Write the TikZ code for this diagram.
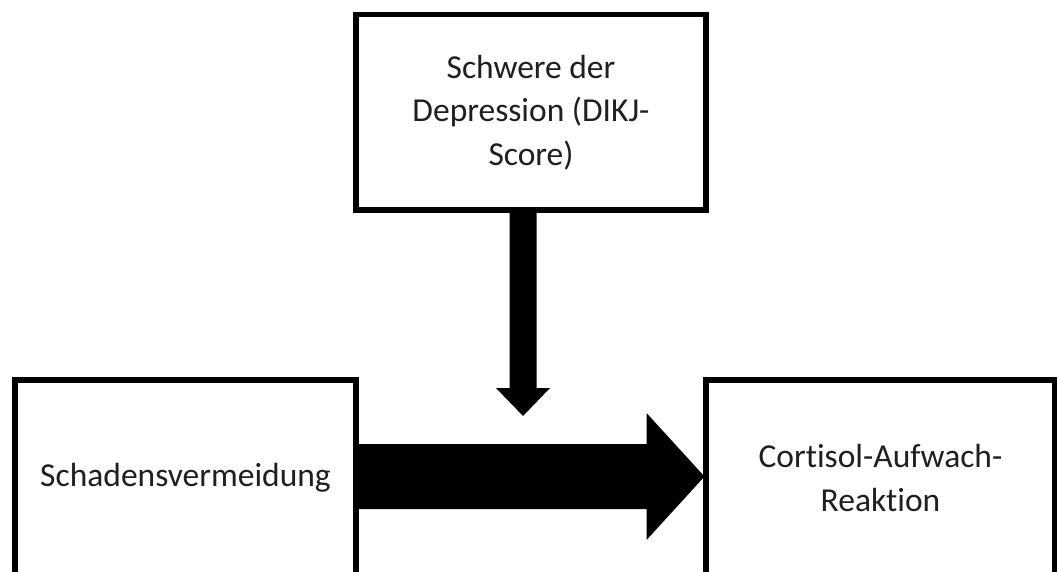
\documentclass[tikz,border=0pt]{standalone}
\usepackage{fontspec}
\setmainfont{Carlito}[Ligatures=CommonOff]
\usetikzlibrary{calc}
\begin{document}
\begin{tikzpicture}[x=1pt,y=-1pt,
  box/.style={draw=black, line width=5.5pt, fill=white, align=center, inner sep=0pt, outer sep=0pt,
    font=\fontsize{33.5}{43.5}\selectfont, text=black!88},
  fatarrow/.style={fill=black, draw=none}]
\useasboundingbox (0,0) rectangle (1057,572);
\begin{scope}
\clip (0,0) rectangle (1057,572);
\node[box, minimum width=350pt, minimum height=195.5pt] (top) at (531,112.25) {Schwere der\\Depression (DIKJ-\\Score)};
\node[box, minimum width=341pt, minimum height=196pt] (left) at (185.5,478) {Schadensvermeidung};
\node[box, minimum width=349pt, minimum height=196pt] (right) at (880.5,478) {Cortisol-Aufwach-\\Reaktion};
\end{scope}
% vertical arrow from top box towards horizontal arrow
\coordinate (vtip) at ($(top.south)+(-8,206)$);
\fill[fatarrow] ($(top.south)+(-21.5,1)$) -- ($(top.south)+(5.5,1)$)
  -- ($(vtip)+(13.5,-28)$) -- ($(vtip)+(27,-28)$) -- (vtip)
  -- ($(vtip)+(-27,-28)$) -- ($(vtip)+(-13.5,-28)$) -- cycle;
% horizontal arrow from left box to right box
\coordinate (htip) at ($(right.west)+(-1.5,-1.5)$);
\fill[fatarrow] ($(left.east)+(1,-34)$) -- ($(htip)+(-58,-32.5)$) -- ($(htip)+(-58,-63.5)$)
  -- (htip) -- ($(htip)+(-58,63.5)$) -- ($(htip)+(-58,32.5)$) -- ($(left.east)+(1,31)$) -- cycle;
\end{tikzpicture}
\end{document}
